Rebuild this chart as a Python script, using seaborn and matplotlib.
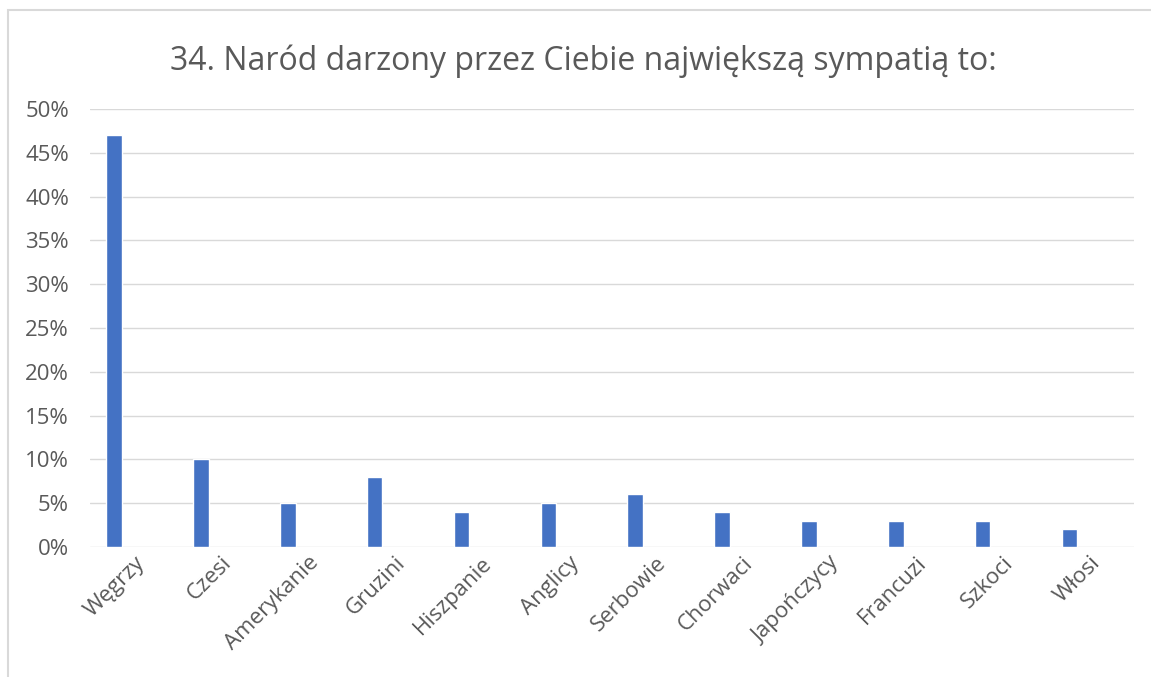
import pandas as pd
import seaborn as sns
from matplotlib import pyplot as plt
from matplotlib.patches import Rectangle
from matplotlib.ticker import PercentFormatter
from matplotlib.transforms import ScaledTranslation

nations = [
    "Węgrzy", "Czesi", "Amerykanie", "Gruzini", "Hiszpanie", "Anglicy",
    "Serbowie", "Chorwaci", "Japończycy", "Francuzi", "Szkoci", "Włosi",
]
shares = [47, 10, 5, 8, 4, 5, 6, 4, 3, 3, 3, 2]
title = "34. Naród darzony przez Ciebie największą sympatią to:"

df = pd.DataFrame({"Naród": nations, "Udział": shares})

sns.set_theme(style="white")
plt.rcParams["font.family"] = ["Open Sans", "DejaVu Sans"]

fig = plt.figure(figsize=(11.51, 6.77), dpi=100)
ax = fig.add_axes([0.078, 0.192, 0.907, 0.647])

sns.barplot(data=df, x="Naród", y="Udział", color="#4472C4", width=0.18,
            saturation=1, ax=ax)

ax.set_ylim(0, 50)
ax.set_xlim(-0.28, 11.74)
ax.set_yticks(range(0, 51, 5))
ax.yaxis.set_major_formatter(PercentFormatter(decimals=0))
ax.yaxis.grid(True, color="#D9D9D9", linewidth=1)
ax.set_axisbelow(True)
ax.set(xlabel="", ylabel="")
sns.despine(ax=ax, left=True, bottom=True, top=True, right=True)
ax.tick_params(axis="both", length=0, labelsize=16, labelcolor="#595959")
ax.tick_params(axis="y", pad=15)
ax.tick_params(axis="x", pad=4)

# Excel-like rotated labels, nudged to the right of the bar
shift = ScaledTranslation(20 / 100, 0, fig.dpi_scale_trans)
for lbl in ax.get_xticklabels():
    lbl.set_rotation(45)
    lbl.set_ha("right")
    lbl.set_rotation_mode("anchor")
    lbl.set_transform(lbl.get_transform() + shift)

fig.text(0.507, 0.91, title, ha="center", va="center", fontsize=23,
         color="#595959")

# light outer frame of the chart area
fig.patches.append(Rectangle((0.007, -0.05), 1.05, 1.035, transform=fig.transFigure,
                             fill=False, edgecolor="#D9D9D9", linewidth=1.5))

fig.savefig("out.png", dpi=100)
